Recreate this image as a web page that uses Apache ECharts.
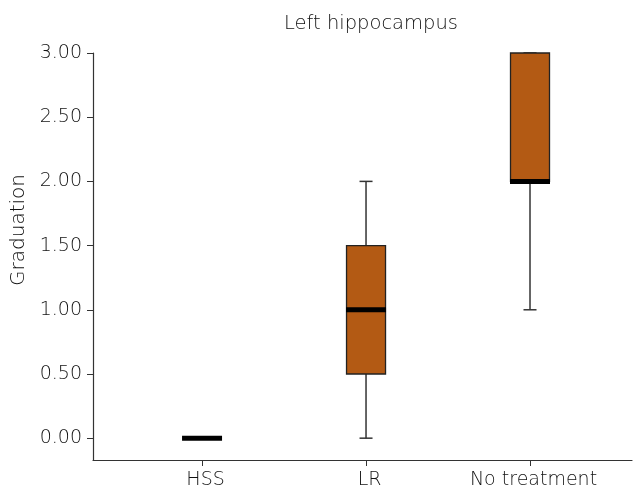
<!DOCTYPE html>
<html>
<head>
<meta charset="utf-8">
<script src="https://cdn.jsdelivr.net/npm/echarts@6/dist/echarts.min.js"></script>
<style>html,body{margin:0;padding:0;background:#fff}#c{width:633px;height:499px}</style>
</head>
<body>
<div id="c"></div>
<script>
var categories = ['HSS', 'LR', 'No treatment'];
var mins = [0, 0, 1];
var q1s = [0, 0.5, 2];
var medians = [0, 1, 2];
var q3s = [0, 1.5, 3];
var maxs = [0, 2, 3];
var yTicks = [0, 0.5, 1, 1.5, 2, 2.5, 3];

var data = categories.map(function (c, i) {
  return [i, mins[i], q1s[i], medians[i], q3s[i], maxs[i]];
});

var FONT = '"DejaVu Sans"';
var W = 200;
var TXT = '#111';
var chart = echarts.init(document.getElementById('c'), null, {renderer: 'canvas'});
chart.setOption({
  animation: false,
  title: {
    text: 'Left hippocampus',
    left: 366, top: 9, textAlign: 'center',
    textStyle: {fontFamily: FONT, fontWeight: W, fontSize: 19.5, color: TXT}
  },
  graphic: [{
    type: 'text', x: 19, y: 230, rotation: Math.PI / 2,
    style: {text: 'Graduation', fontFamily: FONT, fontWeight: W, fontSize: 20, fill: TXT,
      align: 'center', verticalAlign: 'middle'}
  }],
  grid: {left: 93, right: 1, top: 53, bottom: 39, outerBoundsMode: 'none'},
  xAxis: {
    type: 'value', min: -0.665, max: 2.622,
    splitLine: {show: false},
    axisLine: {show: true, onZero: false, lineStyle: {color: '#333', width: 1.2}},
    axisTick: {show: true, length: 6, customValues: [0, 1, 2], lineStyle: {color: '#333'}},
    axisLabel: {
      customValues: [0, 1, 2], margin: 11, padding: [0, 0, 0, 7],
      formatter: function (v) { return categories[Math.round(v)]; },
      fontFamily: FONT, fontWeight: W, fontSize: 19, color: TXT
    }
  },
  yAxis: {
    type: 'value', min: -0.17, max: 3,
    splitLine: {show: false},
    axisLine: {show: true, onZero: false, lineStyle: {color: '#333', width: 1.2}},
    axisTick: {show: true, length: 6, customValues: yTicks, lineStyle: {color: '#333'}},
    axisLabel: {
      customValues: yTicks, margin: 11,
      formatter: function (v) { return v.toFixed(2); },
      fontFamily: FONT, fontWeight: W, fontSize: 19, color: TXT
    }
  },
  series: [{
    type: 'custom',
    encode: {x: 0, y: [1, 2, 3, 4, 5]},
    data: data,
    renderItem: function (params, api) {
      var x = api.value(0);
      var pMin = api.coord([x, api.value(1)]);
      var pQ1 = api.coord([x, api.value(2)]);
      var pMed = api.coord([x, api.value(3)]);
      var pQ3 = api.coord([x, api.value(4)]);
      var pMax = api.coord([x, api.value(5)]);
      var cx = pMed[0];
      var boxW = 39, capW = 13, medW = 40;
      var children = [];
      var wStyle = {stroke: '#333', lineWidth: 1.5};
      if (api.value(5) > api.value(1)) {
        children.push({type: 'line', shape: {x1: cx, y1: pMax[1], x2: cx, y2: pQ3[1]}, style: wStyle});
        children.push({type: 'line', shape: {x1: cx, y1: pQ1[1], x2: cx, y2: pMin[1]}, style: wStyle});
        children.push({type: 'line', shape: {x1: cx - capW / 2, y1: pMax[1], x2: cx + capW / 2, y2: pMax[1]}, style: wStyle});
        children.push({type: 'line', shape: {x1: cx - capW / 2, y1: pMin[1], x2: cx + capW / 2, y2: pMin[1]}, style: wStyle});
      }
      if (api.value(4) > api.value(2)) {
        children.push({
          type: 'rect',
          shape: {x: cx - boxW / 2, y: pQ3[1], width: boxW, height: pQ1[1] - pQ3[1]},
          style: {fill: '#B35A14', stroke: '#222', lineWidth: 1.3}
        });
      }
      children.push({
        type: 'line',
        shape: {x1: cx - medW / 2, y1: pMed[1], x2: cx + medW / 2, y2: pMed[1]},
        style: {stroke: '#000', lineWidth: 5}
      });
      return {type: 'group', children: children};
    }
  }]
});
</script>
</body>
</html>
